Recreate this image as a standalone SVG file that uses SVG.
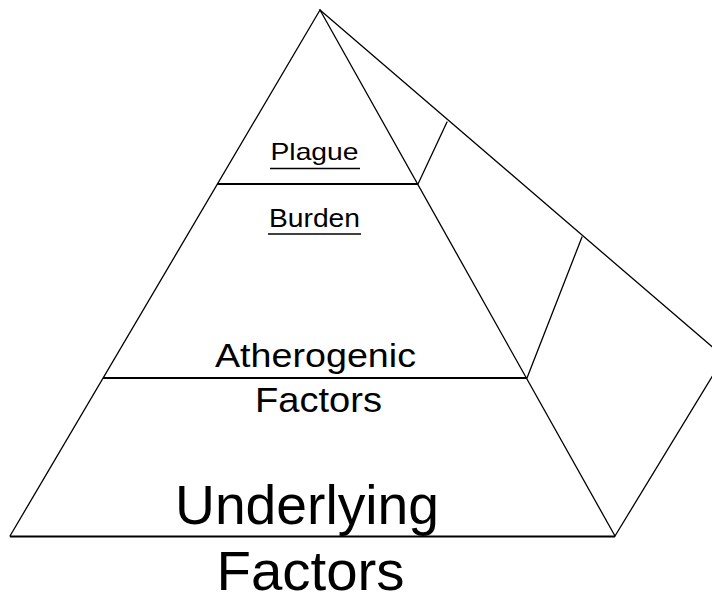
<svg xmlns="http://www.w3.org/2000/svg" width="712" height="602" viewBox="0 0 712 602">
<style>
.ln{stroke:#000;stroke-width:1.3;fill:none;stroke-linecap:round}
.hl{stroke:#000;stroke-width:1.8;fill:none}
.t{font-family:"Liberation Sans",Arial,sans-serif;fill:#000}
.u{text-decoration:underline}
</style>
<rect width="712" height="602" fill="#fff"/>
<g id="connectors">
<line class="ln" x1="320" y1="10" x2="10" y2="536"/>
<line class="ln" x1="320" y1="10" x2="615" y2="536"/>
<line class="ln" x1="320" y1="10" x2="724" y2="357"/>
<line class="ln" x1="615" y1="536" x2="724" y2="357"/>
<line class="ln" x1="418" y1="184" x2="447" y2="122"/>
<line class="ln" x1="527" y1="378" x2="582" y2="237"/>
</g>
<g id="plague-level">
<line class="hl" x1="217" y1="184" x2="418" y2="184"/>
<text class="t" x="270.5" y="159.5" font-size="24" textLength="88" lengthAdjust="spacingAndGlyphs">Plague</text>
<line x1="270" y1="168.5" x2="360" y2="168.5" stroke="#000" stroke-width="1.5"/>
</g>
<g id="burden-level">
<text class="t" x="269" y="226.5" font-size="25" textLength="91" lengthAdjust="spacingAndGlyphs">Burden</text>
<line x1="268" y1="234" x2="361" y2="234" stroke="#000" stroke-width="1.5"/>
</g>
<g id="atherogenic-level">
<line class="hl" x1="103" y1="378" x2="527" y2="378"/>
<text class="t" x="215" y="366.5" font-size="33.5" textLength="201" lengthAdjust="spacingAndGlyphs">Atherogenic</text>
<text class="t" x="255" y="411.5" font-size="35" textLength="127" lengthAdjust="spacingAndGlyphs">Factors</text>
</g>
<g id="underlying-level">
<line class="hl" x1="10" y1="536.5" x2="615" y2="536.5"/>
<text class="t" x="175" y="523.5" font-size="56" textLength="264" lengthAdjust="spacingAndGlyphs">Underlying</text>
<text class="t" x="216.5" y="590" font-size="56" textLength="188" lengthAdjust="spacingAndGlyphs">Factors</text>
</g>
</svg>
